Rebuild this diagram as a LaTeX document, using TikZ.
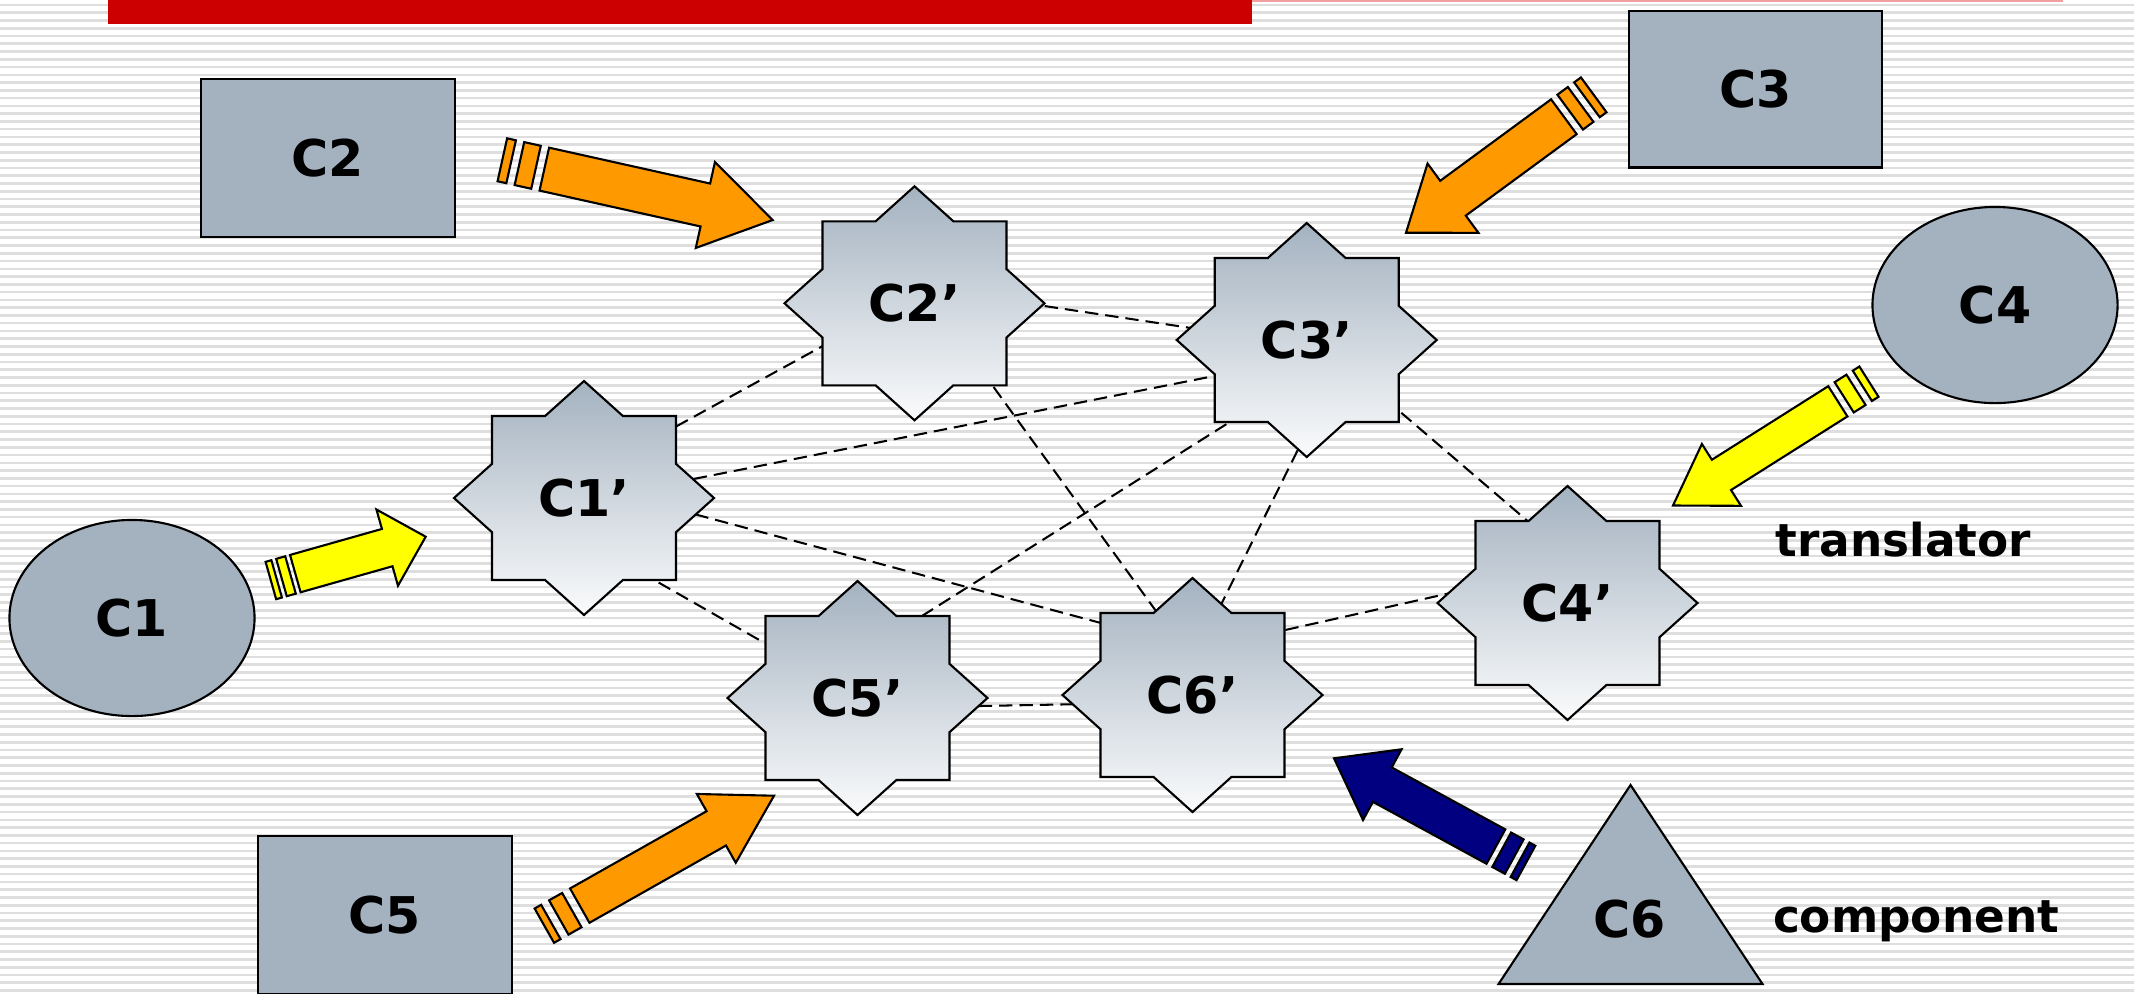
\documentclass[tikz,border=0pt]{standalone}
\usepackage{fontspec}
\setmainfont{DejaVu Sans}
\usetikzlibrary{shapes.geometric}

\definecolor{slate}{RGB}{164,178,192}
\definecolor{slatelight}{RGB}{250,251,252}
\definecolor{stripe}{RGB}{222,222,222}
\definecolor{barred}{RGB}{204,0,0}
\definecolor{barpink}{RGB}{240,160,160}
\definecolor{arrorange}{RGB}{255,153,0}
\definecolor{arryellow}{RGB}{255,255,0}
\definecolor{arrnavy}{RGB}{0,0,128}

\pgfdeclarelayer{bg}
\pgfsetlayers{bg,main}

\tikzset{
  sa/.cd,
  len/.store in=\saL, head/.store in=\saH, shaft/.store in=\saS, wing/.store in=\saW,
  sone/.store in=\saA, stwo/.store in=\saB, gap/.store in=\saG, paint/.store in=\saC,
}
\tikzset{
  outline/.style={draw=black, line width=0.6pt, line join=miter},
  block/.style={outline, fill=slate, rectangle, minimum width=2.53cm, minimum height=1.58cm},
  oval/.style={outline, fill=slate, ellipse, minimum width=2.45cm, minimum height=1.96cm},
  starface/.style={outline, top color=slate, bottom color=slatelight},
  lbl/.style={font=\fontsize{14.4pt}{16pt}\selectfont\bfseries, inner sep=0pt, text=black},
  note/.style={font=\fontsize{12.9pt}{15pt}\selectfont\bfseries, inner sep=0pt, anchor=base},
  link/.style={draw=black, line width=0.58pt, dash pattern=on 3.8pt off 2pt},
  pics/octstar/.style={code={
    \path[starface] (0,-117) -- (38.9,-82) -- (92,-82) -- (92,-34.2) -- (130,0)
      -- (92,34.2) -- (92,82) -- (38.9,82) -- (0,117) -- (-38.9,82) -- (-92,82)
      -- (-92,34.2) -- (-130,0) -- (-92,-34.2) -- (-92,-82) -- (-38.9,-82) -- cycle;
  }},
  pics/stripedarrow/.style={code={
    \path[outline, fill=\saC] (0,0) -- (-\saH,\saW) -- (-\saH,\saS) -- (-\saL,\saS)
      -- (-\saL,-\saS) -- (-\saH,-\saS) -- (-\saH,-\saW) -- cycle;
    \path[outline, fill=\saC] (-\saL-\saG,\saS) rectangle (-\saL-\saG-\saA,-\saS);
    \path[outline, fill=\saC] (-\saL-2*\saG-\saA,\saS) rectangle (-\saL-2*\saG-\saA-\saB,-\saS);
  }},
}

\begin{document}
\begin{tikzpicture}[x=0.01cm, y=-0.01cm]
\useasboundingbox (0,0) rectangle (2134,993);
\clip (0,0) rectangle (2134,993);

% striped backdrop and title bar
\begin{pgfonlayer}{bg}
  \fill[white] (0,0) rectangle (2134,993);
  \foreach \k in {0,...,128}
    \draw[stripe, line width=0.75pt] (0,5+7.76*\k) -- (2134,5+7.76*\k);
  \fill[barred] (108,0) rectangle (1252,24);
  \draw[barpink, line width=0.5pt] (1252,0.8) -- (2063,0.8);
\end{pgfonlayer}

% translators
\pic at (584,498) {octstar};
\pic at (914.5,303.3) {octstar};
\pic at (1306.7,340) {octstar};
\pic at (1567.5,603) {octstar};
\pic at (857.5,698) {octstar};
\pic at (1192.5,695) {octstar};
\node[lbl] (c1p) at (584,498) {C1’};
\node[lbl] (c2p) at (914.5,303.3) {C2’};
\node[lbl] (c3p) at (1306.7,340) {C3’};
\node[lbl] (c4p) at (1567.5,603) {C4’};
\node[lbl] (c5p) at (857.5,698) {C5’};
\node[lbl] (c6p) at (1192.5,695) {C6’};

% links between translators
\begin{pgfonlayer}{bg}
  \draw[link] ([shift={(74.2,-61.7)}]c1p.center) -- ([shift={(-74.3,33.1)}]c2p.center);
  \draw[link] ([shift={(110,-0.3)}]c2p.center) -- ([shift={(-104.2,-10.3)}]c3p.center);
  \draw[link] ([shift={(89.7,-15.1)}]c1p.center) -- ([shift={(-72.8,32.1)}]c3p.center);
  \draw[link] ([shift={(67.1,67.2)}]c2p.center) -- ([shift={(-25.5,-68.8)}]c6p.center);
  \draw[link] ([shift={(-63.1,73.3)}]c3p.center) -- ([shift={(50.6,-73.3)}]c5p.center);
  \draw[link] ([shift={(-0.1,92.1)}]c3p.center) -- ([shift={(20.6,-74.4)}]c6p.center);
  \draw[link] ([shift={(79.1,59.5)}]c3p.center) -- ([shift={(-30.6,-74)}]c4p.center);
  \draw[link] ([shift={(91.7,11.1)}]c1p.center) -- ([shift={(-73.2,-67.1)}]c6p.center);
  \draw[link] ([shift={(56.9,74.4)}]c1p.center) -- ([shift={(-75.1,-44.8)}]c5p.center);
  \draw[link] ([shift={(100.8,8.4)}]c5p.center) -- ([shift={(-100.8,8.9)}]c6p.center);
  \draw[link] ([shift={(73,-60.6)}]c6p.center) -- ([shift={(-110.7,-11.4)}]c4p.center);
\end{pgfonlayer}

% components
\node[oval, lbl] (c1) at (132,618) {C1};
\node[block, lbl] (c2) at (328,158) {C2};
\node[block, lbl, minimum height=1.565cm] (c3) at (1755.5,89.2) {C3};
\node[oval, lbl] (c4) at (1995,305) {C4};
\node[block, lbl] (c5) at (385,914.7) {C5};
\path[outline, fill=slate] (1630.5,785) -- (1762.5,984) -- (1498.5,984) -- cycle;
\node[lbl] (c6) at (1630,919) {C6};

% striped block arrows
\coordinate (t1) at (425.7,536.7);
\coordinate (t2) at (772.7,220);
\coordinate (t3) at (1406,232.7);
\coordinate (t4) at (1673,505.5);
\coordinate (t5) at (774,795.7);
\coordinate (t6) at (1334,758.3);
\pic[rotate=15.8, sa/len=135.5, sa/head=40, sa/shaft=19.4, sa/wing=39.6,
     sa/sone=9.4, sa/stwo=6, sa/gap=5, sa/paint=arryellow] at (t1) {stripedarrow};
\pic[rotate=-12.56, sa/len=234, sa/head=69, sa/shaft=22, sa/wing=44,
     sa/sone=17, sa/stwo=9, sa/gap=8.5, sa/paint=arrorange] at (t2) {stripedarrow};
\pic[rotate=-143.7, sa/len=195.9, sa/head=58.3, sa/shaft=21.6, sa/wing=43,
     sa/sone=13, sa/stwo=8.4, sa/gap=7.8, sa/paint=arrorange] at (t3) {stripedarrow};
\pic[rotate=-147.7, sa/len=195, sa/head=57.3, sa/shaft=17.9, sa/wing=36.6,
     sa/sone=14, sa/stwo=7.8, sa/gap=7.5, sa/paint=arryellow] at (t4) {stripedarrow};
\pic[rotate=29.5, sa/len=223.2, sa/head=66.3, sa/shaft=19.7, sa/wing=39.5,
     sa/sone=15, sa/stwo=7.5, sa/gap=9.1, sa/paint=arrorange] at (t5) {stripedarrow};
\pic[rotate=151.4, sa/len=184.4, sa/head=55, sa/shaft=19.6, sa/wing=40.3,
     sa/sone=14.3, sa/stwo=6.7, sa/gap=6.6, sa/paint=arrnavy] at (t6) {stripedarrow};

% legend words
\node[note] (tr) at (1903.5,556.6) {translator};
\node[note] (co) at (1916,932.3) {component};
\end{tikzpicture}
\end{document}
